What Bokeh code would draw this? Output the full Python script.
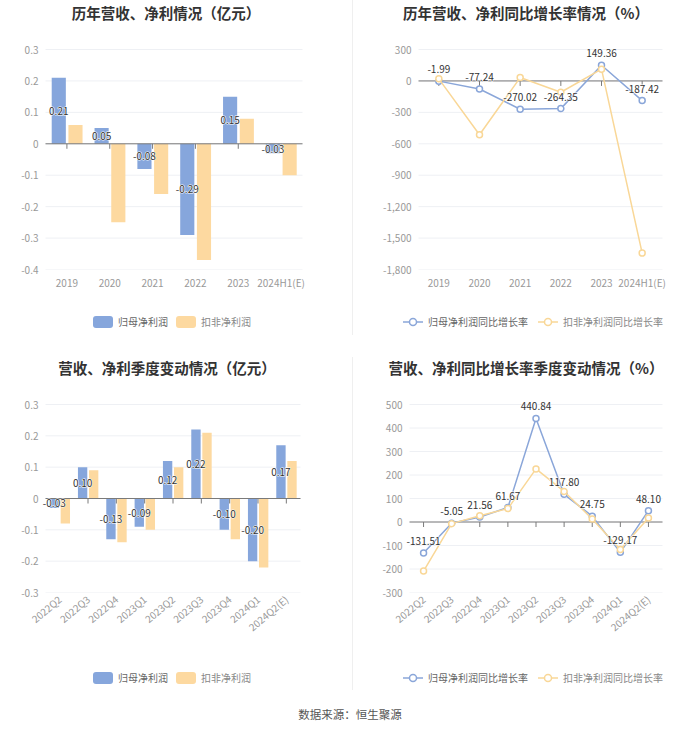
from bokeh.plotting import figure
from bokeh.models import (Range1d, FixedTicker, CustomJSTickFormatter, Div, ColumnDataSource)
from bokeh.layouts import row, column
from bokeh.transform import dodge
from bokeh.core.properties import value
from bokeh.embed import file_html
from bokeh.resources import INLINE

# ---------------- data ----------------
years = ["2019", "2020", "2021", "2022", "2023", "2024H1(E)"]
annual_np = [0.21, 0.05, -0.08, -0.29, 0.15, -0.03]
annual_kf = [0.06, -0.25, -0.16, -0.37, 0.08, -0.10]
annual_np_yoy = [-1.99, -77.24, -270.02, -264.35, 149.36, -187.42]
annual_kf_yoy = [20, -514, 32, -108, 112, -1643]

quarters = ["2022Q2", "2022Q3", "2022Q4", "2023Q1", "2023Q2", "2023Q3", "2023Q4", "2024Q1", "2024Q2(E)"]
q_np = [-0.03, 0.10, -0.13, -0.09, 0.12, 0.22, -0.10, -0.20, 0.17]
q_kf = [-0.08, 0.09, -0.14, -0.10, 0.10, 0.21, -0.13, -0.22, 0.12]
q_np_yoy = [-131.51, -5.05, 21.56, 61.67, 440.84, 117.80, 24.75, -129.17, 48.10]
q_kf_yoy = [-209, -7, 27, 57, 226, 130, 13, -117, 17]

ticks_annual_amt = [-0.4, -0.3, -0.2, -0.1, 0, 0.1, 0.2, 0.3]
ticks_annual_pct = [-1800, -1500, -1200, -900, -600, -300, 0, 300]
ticks_q_amt = [-0.3, -0.2, -0.1, 0, 0.1, 0.2, 0.3]
ticks_q_pct = [-300, -200, -100, 0, 100, 200, 300, 400, 500]

series_names = ["归母净利润", "扣非净利润"]
yoy_names = ["归母净利润同比增长率", "扣非净利润同比增长率"]
titles = ["历年营收、净利情况（亿元）", "历年营收、净利同比增长率情况（%）",
          "营收、净利季度变动情况（亿元）", "营收、净利同比增长率季度变动情况（%）"]
source_text = "数据来源：恒生聚源"

# ---------------- style ----------------
FONT = "Noto Sans CJK SC"
BLUE = "#86a6dc"
YELLOW = "#fdd9a0"
BLUE_L = "#8aa6d9"
YELLOW_L = "#f9d797"
GRID = "#eef0f4"
AXIS = "#7a7a7a"
TICK_TXT = "#999999"
PADX = 7    # extra frame room left/right of the grid (so labels are not clipped)
PADT = 10   # extra frame room above the top grid line

FMT_AMT = "return Math.abs(tick) < 1e-9 ? '0' : tick.toFixed(1);"
FMT_PCT = "return Math.round(tick).toLocaleString('en-US');"
FMT_CAT = "return cats[Math.round(tick - 0.5)];"


def title_div(text, width, height, cx):
    html = (f'<div style="position:relative;width:{width}px;height:{height}px;">'
            f'<div style="position:absolute;left:{cx - 170}px;width:340px;top:0;height:{height}px;'
            f'line-height:{height}px;text-align:center;font-family:\'{FONT}\';font-size:14.5px;'
            f'font-weight:bold;color:#333;white-space:nowrap">{text}</div></div>')
    return Div(text=html, width=width, height=height, margin=0)


def swatch_box(color):
    return (f'<span style="display:inline-block;width:20px;height:12px;border-radius:3px;'
            f'background:{color}"></span>')


def swatch_line(color):
    return (f'<svg width="20" height="12" style="display:block">'
            f'<line x1="0" y1="6" x2="20" y2="6" stroke="{color}" stroke-width="1.5"/>'
            f'<circle cx="10" cy="6" r="3.5" fill="white" stroke="{color}" stroke-width="1.5"/></svg>')


def legend_div(width, height, left, top, entries, gap):
    parts = []
    for i, (icon, label, tcolor) in enumerate(entries):
        ml = 0 if i == 0 else gap
        parts.append(f'<div style="display:flex;align-items:center;margin-left:{ml}px">{icon}'
                     f'<span style="margin-left:5px;font-family:\'{FONT}\';font-size:10px;'
                     f'color:{tcolor};line-height:16px;white-space:nowrap">{label}</span></div>')
    html = (f'<div style="position:relative;width:{width}px;height:{height}px;">'
            f'<div style="position:absolute;left:{left}px;top:{top}px;height:16px;display:flex;'
            f'align-items:center">{"".join(parts)}</div></div>')
    return Div(text=html, width=width, height=height, margin=0)


def base_fig(cats, yticks, gw, gh, bl, br, bt, bb, fmt, rotate):
    """gw/gh: grid size in px; bl/br/bt/bb: figure border around the grid in px."""
    n = len(cats)
    cw = gw / n
    uy = (yticks[-1] - yticks[0]) / gh
    p = figure(x_range=Range1d(-PADX / cw, n + PADX / cw),
               y_range=Range1d(yticks[0], yticks[-1] + PADT * uy),
               frame_width=gw + 2 * PADX, frame_height=gh + PADT,
               min_border_left=bl - PADX, min_border_right=br - PADX,
               min_border_top=bt - PADT, min_border_bottom=bb, output_backend="svg",
               toolbar_location=None, tools="", title=None)
    p.outline_line_color = None
    p.background_fill_color = "white"
    p.border_fill_color = "white"
    p.xgrid.visible = False
    p.ygrid.visible = False
    xs = [i + 0.5 for i in range(n)]
    # horizontal grid lines over the category span
    gsrc = ColumnDataSource(dict(y=yticks, x0=[0] * len(yticks), x1=[n] * len(yticks)))
    p.segment(x0="x0", y0="y", x1="x1", y1="y", source=gsrc, line_color=GRID, line_width=1)
    p.yaxis.ticker = FixedTicker(ticks=yticks)
    p.yaxis.formatter = CustomJSTickFormatter(code=fmt)
    p.xaxis.ticker = FixedTicker(ticks=xs)
    p.xaxis.formatter = CustomJSTickFormatter(args=dict(cats=cats), code=FMT_CAT)
    for ax in (p.xaxis[0], p.yaxis[0]):
        ax.axis_line_color = None
        ax.major_tick_line_color = None
        ax.minor_tick_line_color = None
        ax.major_tick_out = 0
        ax.major_tick_in = 0
        ax.major_label_text_color = TICK_TXT
        ax.major_label_text_font_size = "10px"
        ax.major_label_text_font = FONT
    p.yaxis.major_label_standoff = 0
    p.xaxis.major_label_standoff = 5
    if rotate:
        p.xaxis.major_label_orientation = 0.70
    return p, xs, n, (yticks[-1] - yticks[0]) / gh * 5


def zero_axis(p, xs, n, tl):
    p.segment(x0=0, y0=0, x1=n, y1=0, line_color=AXIS, line_width=1)
    tsrc = ColumnDataSource(dict(x=xs, y0=[0] * len(xs), y1=[-tl] * len(xs)))
    p.segment(x0="x", y0="y0", x1="x", y1="y1", source=tsrc, line_color=AXIS, line_width=1)


def halo_text(p, src, x, y_offset=0):
    kw = dict(x=x, y="ly", text="lab", source=src, y_offset=y_offset,
              text_align="center", text_baseline="middle", text_font=value(FONT),
              text_font_size="10px")
    p.text(text_color="white", text_outline_color="white", **kw)
    p.text(text_color="#333333", **kw)


def bar_chart(cats, s1, s2, yticks, gw, gh, bl, br, bt, bb, rotate):
    p, xs, n, tl = base_fig(cats, yticks, gw, gh, bl, br, bt, bb, FMT_AMT, rotate)
    src = ColumnDataSource(dict(x=xs, a=s1, b=s2, ly=[v / 2 for v in s1],
                                lab=[f"{v:.2f}" for v in s1]))
    p.vbar(x=dodge("x", -0.19), top="a", width=0.33, fill_color=BLUE, line_color=None, source=src)
    p.vbar(x=dodge("x", 0.20), top="b", width=0.33, fill_color=YELLOW, line_color=None, source=src)
    zero_axis(p, xs, n, tl)
    halo_text(p, src, dodge("x", -0.19))
    return p


def line_chart(cats, s1, s2, yticks, gw, gh, bl, br, bt, bb, rotate):
    p, xs, n, tl = base_fig(cats, yticks, gw, gh, bl, br, bt, bb, FMT_PCT, rotate)
    zero_axis(p, xs, n, tl)
    src = ColumnDataSource(dict(x=xs, a=s1, b=s2, ly=s1, lab=[f"{v:.2f}" for v in s1]))
    p.line("x", "a", line_color=BLUE_L, line_width=1.5, source=src)
    p.scatter("x", "a", size=6, fill_color="white", line_color=BLUE_L, line_width=1.5, source=src)
    p.line("x", "b", line_color=YELLOW_L, line_width=1.5, source=src)
    p.scatter("x", "b", size=6, fill_color="white", line_color=YELLOW_L, line_width=1.5, source=src)
    halo_text(p, src, "x", y_offset=-12)
    return p


bar_legend = [(swatch_box(BLUE), series_names[0], "#666"),
              (swatch_box(YELLOW), series_names[1], "#888")]
line_legend = [(swatch_line(BLUE_L), yoy_names[0], "#666"),
               (swatch_line(YELLOW_L), yoy_names[1], "#888")]

# top row: title 26 + figure 280 + legend 39 = 345
p1 = bar_chart(years, annual_np, annual_kf, ticks_annual_amt, 257, 220, 45, 50, 23, 37, False)
p2 = line_chart(years, annual_np_yoy, annual_kf_yoy, ticks_annual_pct, 244, 220, 65, 38, 23, 37, False)
# bottom row: title 46 + figure 259 + legend 50 = 355
p3 = bar_chart(quarters, q_np, q_kf, ticks_q_amt, 255, 188, 45, 52, 13, 58, True)
p4 = line_chart(quarters, q_np_yoy, q_kf_yoy, ticks_q_pct, 253, 188, 56, 38, 13, 58, True)

col1 = column(title_div(titles[0], 352, 26, 166), p1, legend_div(352, 39, 93, 8, bar_legend, 8))
col2 = column(title_div(titles[1], 347, 26, 173), p2, legend_div(347, 39, 50, 8, line_legend, 10))
col3 = column(title_div(titles[2], 352, 46, 167), p3, legend_div(352, 50, 93, 20, bar_legend, 8))
col4 = column(title_div(titles[3], 347, 46, 173), p4, legend_div(347, 50, 50, 20, line_legend, 10))

sep1 = Div(width=1, height=345, margin=0,
           text='<div style="width:1px;height:335px;background:#efefef"></div>')
sep2 = Div(width=1, height=355, margin=0,
           text='<div style="width:1px;margin-top:12px;height:333px;background:#efefef"></div>')
src_div = Div(width=700, height=30, margin=0,
              text=f'<div style="width:700px;text-align:center;font-size:11.5px;color:#555;'
                   f'line-height:28px;font-family:\'{FONT}\'">{source_text}</div>')

layout = column(row(col1, sep1, col2), row(col3, sep2, col4), src_div)

open("out.html", "w").write(file_html(layout, INLINE))
